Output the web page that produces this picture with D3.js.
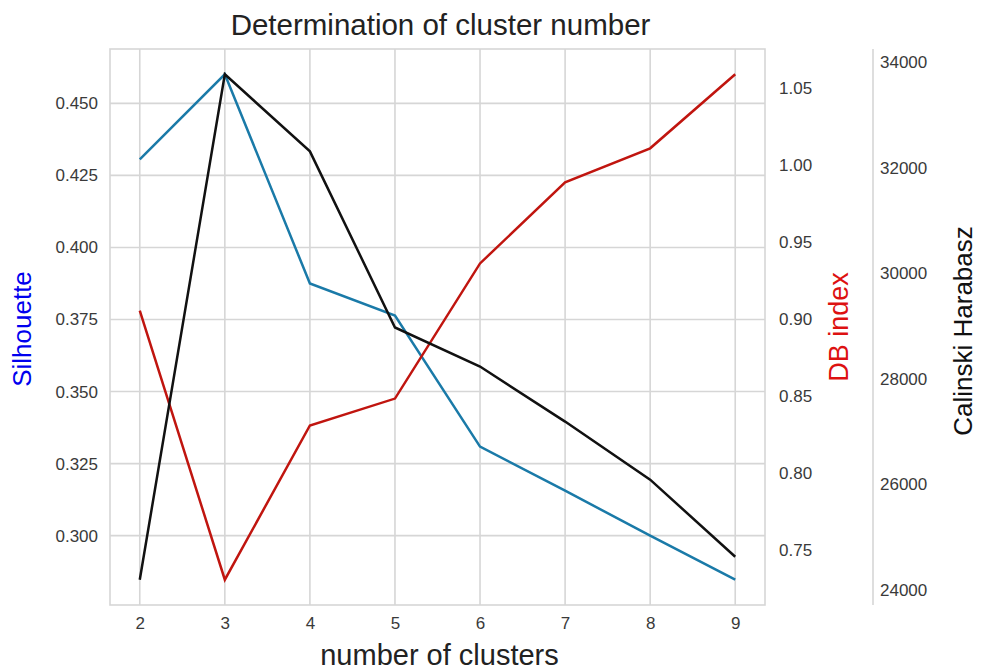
<!DOCTYPE html>
<html>
<head>
<meta charset="utf-8">
<script src="https://cdn.jsdelivr.net/npm/d3@7"></script>
<style>
  body { margin: 0; background: #fff; }
  text { font-family: "Liberation Sans", Arial, sans-serif; }
</style>
</head>
<body>
<svg id="chart" width="988" height="672"></svg>
<script>
// cluster counts and the three scores
const clusters = [2, 3, 4, 5, 6, 7, 8, 9];
const silhouette = [0.4306, 0.4601, 0.3875, 0.3764, 0.3309, 0.3156, 0.3000, 0.2847];
const dbIndex = [0.9053, 0.7304, 0.8306, 0.8481, 0.9359, 0.9886, 1.0107, 1.0588];
const calinski = [24190, 33772, 32311, 28972, 28231, 27188, 26087, 24626];

const silTicks = [0.300, 0.325, 0.350, 0.375, 0.400, 0.425, 0.450];
const dbTicks = [0.75, 0.80, 0.85, 0.90, 0.95, 1.00, 1.05];
const chTicks = [24000, 26000, 28000, 30000, 32000, 34000];

const colors = {
  sil: '#1a7aa8',
  db: '#c0150f',
  ch: '#111111',
  grid: '#d6d6d6',
  tick: '#3a3a3a'
};

const svg = d3.select('#chart');
const margin = { top: 49, right: 223, bottom: 67, left: 110 };
const width = 988 - margin.left - margin.right;
const height = 672 - margin.top - margin.bottom;

const g = svg.append('g').attr('transform', `translate(${margin.left},${margin.top})`);

// matplotlib-style 5% padding on each axis
function padded(values) {
  const [lo, hi] = d3.extent(values);
  const m = (hi - lo) * 0.05;
  return [lo - m, hi + m];
}

const x = d3.scaleLinear().domain(padded(clusters)).range([0, width]);
const ySil = d3.scaleLinear().domain(padded(silhouette)).range([height, 0]);
const yDb = d3.scaleLinear().domain(padded(dbIndex)).range([height, 0]);
const yCh = d3.scaleLinear().domain(padded(calinski)).range([height, 0]);

// grid lines
g.append('g').selectAll('line').data(clusters).enter().append('line')
  .attr('x1', d => x(d)).attr('x2', d => x(d))
  .attr('y1', 0).attr('y2', height)
  .attr('stroke', colors.grid).attr('stroke-width', 1.6);

g.append('g').selectAll('line').data(silTicks).enter().append('line')
  .attr('x1', 0).attr('x2', width)
  .attr('y1', d => ySil(d)).attr('y2', d => ySil(d))
  .attr('stroke', colors.grid).attr('stroke-width', 1.6);

// frame
g.append('rect')
  .attr('width', width).attr('height', height)
  .attr('fill', 'none').attr('stroke', colors.grid).attr('stroke-width', 1.6);

// axes (no tick marks, just labels)
function styleAxis(sel) {
  sel.select('.domain').remove();
  sel.selectAll('.tick line').remove();
  sel.selectAll('.tick text')
    .attr('fill', colors.tick)
    .style('font-size', '17px');
}

g.append('g')
  .attr('transform', `translate(0,${height})`)
  .call(d3.axisBottom(x).tickValues(clusters).tickFormat(d3.format('d')).tickSize(0).tickPadding(12))
  .call(styleAxis);

g.append('g')
  .call(d3.axisLeft(ySil).tickValues(silTicks).tickFormat(d3.format('.3f')).tickSize(0).tickPadding(12))
  .call(styleAxis);

g.append('g')
  .attr('transform', `translate(${width},0)`)
  .call(d3.axisRight(yDb).tickValues(dbTicks).tickFormat(d3.format('.2f')).tickSize(0).tickPadding(14))
  .call(styleAxis);

// third axis, offset to the right
const chX = width + 108;
g.append('g')
  .attr('transform', `translate(${chX},0)`)
  .call(d3.axisRight(yCh).tickValues(chTicks).tickFormat(d3.format('d')).tickSize(0).tickPadding(7))
  .call(styleAxis);
g.append('line')
  .attr('x1', chX).attr('x2', chX)
  .attr('y1', 0).attr('y2', height)
  .attr('stroke', colors.grid).attr('stroke-width', 1.6);

// lines
function drawLine(values, yScale, color) {
  const line = d3.line()
    .x((d, i) => x(clusters[i]))
    .y(d => yScale(d));
  g.append('path')
    .datum(values)
    .attr('d', line)
    .attr('fill', 'none')
    .attr('stroke', color)
    .attr('stroke-width', 2.5)
    .attr('stroke-linejoin', 'miter');
}

drawLine(silhouette, ySil, colors.sil);
drawLine(dbIndex, yDb, colors.db);
drawLine(calinski, yCh, colors.ch);

// title and axis labels
svg.append('text')
  .attr('x', margin.left + width / 2 + 3)
  .attr('y', 35)
  .attr('text-anchor', 'middle')
  .attr('fill', '#222')
  .style('font-size', '29.5px')
  .text('Determination of cluster number');

svg.append('text')
  .attr('x', margin.left + width / 2 + 2)
  .attr('y', 665)
  .attr('text-anchor', 'middle')
  .attr('fill', '#222')
  .style('font-size', '29px')
  .text('number of clusters');

svg.append('text')
  .attr('transform', `translate(31,${margin.top + height / 2 + 2}) rotate(-90)`)
  .attr('text-anchor', 'middle')
  .attr('fill', '#0000ee')
  .style('font-size', '26px')
  .text('Silhouette');

svg.append('text')
  .attr('transform', `translate(848,${margin.top + height / 2}) rotate(-90)`)
  .attr('text-anchor', 'middle')
  .attr('fill', '#dd1111')
  .style('font-size', '27px')
  .text('DB index');

svg.append('text')
  .attr('transform', `translate(972,${margin.top + height / 2 + 4}) rotate(-90)`)
  .attr('text-anchor', 'middle')
  .attr('fill', '#111')
  .style('font-size', '26px')
  .text('Calinski Harabasz');
</script>
</body>
</html>
